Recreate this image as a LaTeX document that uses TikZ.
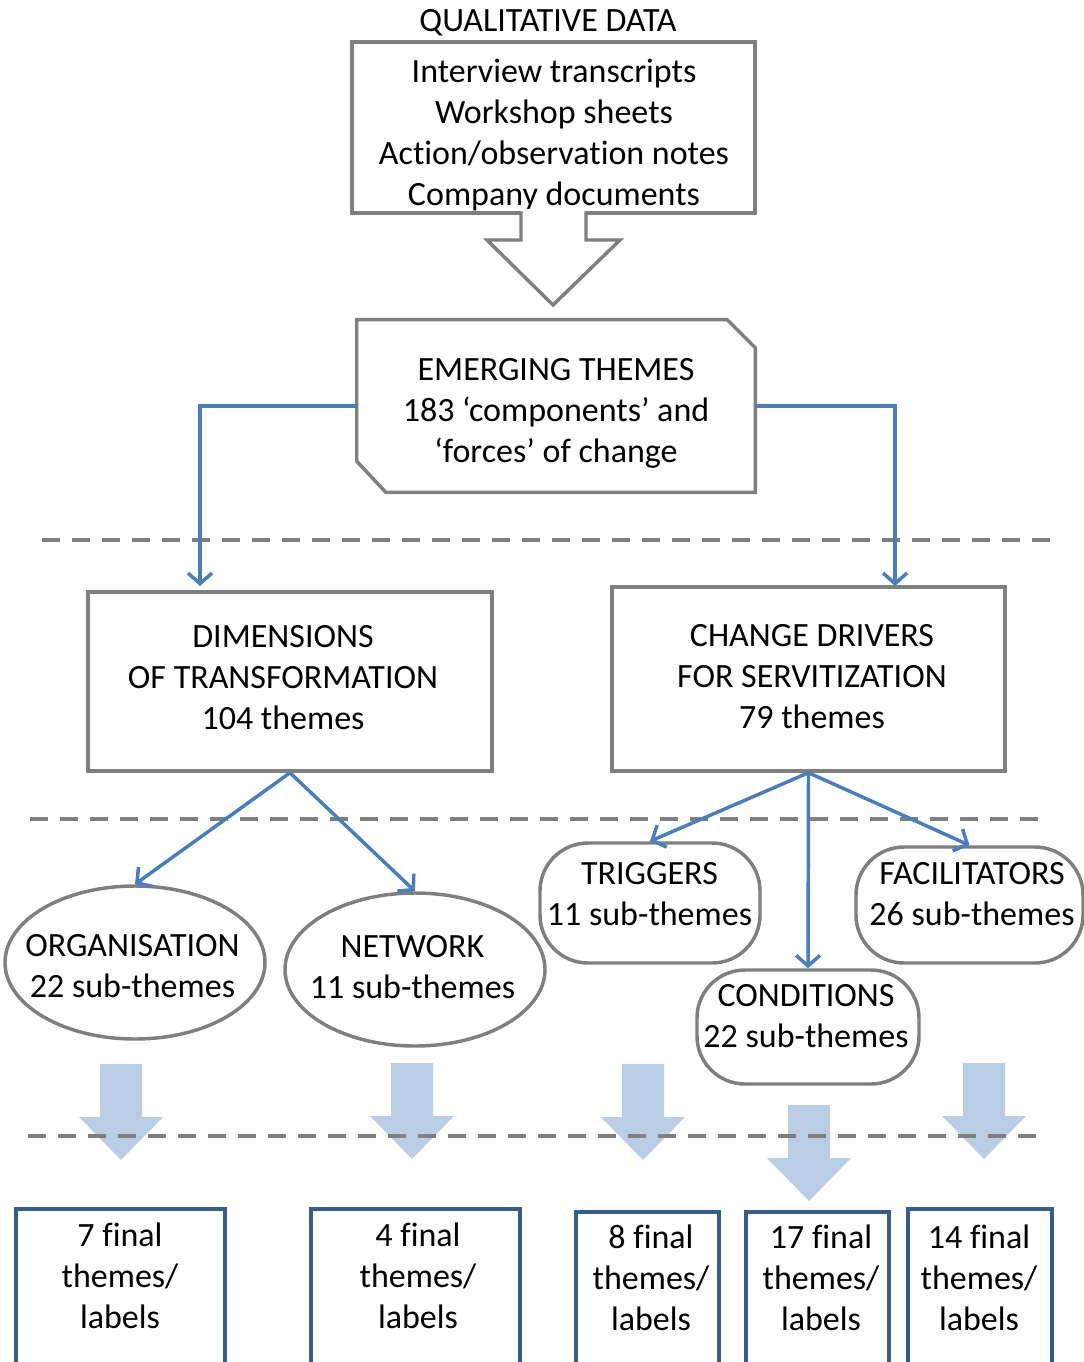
\documentclass[tikz,border=0pt]{standalone}
\usepackage{fontspec}
\setmainfont{Carlito}[RawFeature={-liga}]
\usetikzlibrary{arrows.meta,shapes.geometric}
\newdimen\pxu \pxu=0.75pt
\definecolor{boxgray}{HTML}{7F7F7F}
\definecolor{conblue}{HTML}{4A7EBB}
\definecolor{lightblue}{HTML}{B9CDE5}
\definecolor{darkblue}{HTML}{385D8A}
\newcommand{\blockarrow}[2]{\fill[lightblue] (#1-21,#2) -- (#1+21,#2) -- (#1+21,#2+53) -- (#1+42,#2+53) -- (#1,#2+96) -- (#1-42,#2+53) -- (#1-21,#2+53) -- cycle;}
\begin{document}
\begin{tikzpicture}[x=0.75pt,y=-0.75pt,
  txt/.style={font=\fontsize{25.5}{30.75}\selectfont, align=center, inner sep=0pt},
  graybox/.style={draw=boxgray, line width=2.6pt, rectangle, inner sep=0pt},
  oval/.style={draw=boxgray, line width=2.6pt, ellipse, inner sep=0pt},
  roundbox/.style={draw=boxgray, line width=2.6pt, rectangle, rounded corners=48\pxu, inner sep=0pt},
  conn/.style={draw=conblue, line width=2.6pt, -{Straight Barb[length=8pt,width=18pt]}},
  sepline/.style={draw=boxgray, line width=3pt, dash pattern=on 13.5pt off 9pt},
  finalbox/.style={draw=darkblue, line width=3pt, rectangle, inner sep=0pt},
]
\useasboundingbox (0,0) rectangle (1083,1362);

% top
\node[txt] (qd) at (548,23) {QUALITATIVE DATA};
\node[graybox, minimum width=403\pxu, minimum height=171\pxu] (data) at (553.5,127.5) {};
\node[txt] (dataT) at (554,135.5)
  {Interview transcripts\\Workshop sheets\\Action/observation notes\\Company documents};

% hollow arrow
\path[fill=white] (521,209) -- (521,240) -- (487,240) -- (553,305) -- (620,240) -- (586,240) -- (586,209) -- cycle;
\draw[boxgray, line width=2.6pt, line join=miter] (521,211.5) -- (521,240) -- (487,240) -- (553,305) -- (620,240) -- (586,240) -- (586,211.5);

% emerging themes
\node[minimum width=398\pxu, minimum height=172\pxu, inner sep=0pt] (emg) at (556,406) {};
\draw[boxgray, line width=2.6pt, line join=miter]
  (emg.north west) -- ([xshift=-28\pxu]emg.north east) -- ([yshift=-28\pxu]emg.north east)
  -- (emg.south east) -- ([xshift=29\pxu]emg.south west) -- ([yshift=31\pxu]emg.south west) -- cycle;
\node[txt] (emgT) at (556,413.5) {EMERGING THEMES\\183 ‘components’ and\\‘forces’ of change};

% separators
\draw[sepline] (42,540) -- (1055,540);
\draw[sepline] (30,819) -- (1040,819);

% level 2
\node[graybox, minimum width=404\pxu, minimum height=179\pxu] (dim) at (290,681.5) {};
\node[txt] (dimT) at (283,677.5) {DIMENSIONS\\OF TRANSFORMATION\\104 themes};
\node[graybox, minimum width=393\pxu, minimum height=184\pxu] (cd) at (808.5,679) {};
\node[txt] (cdT) at (812,677) {CHANGE DRIVERS\\FOR SERVITIZATION\\79 themes};

% level 3
\node[oval, minimum width=260\pxu, minimum height=153\pxu] (org) at (135,962.5) {};
\node[txt] (orgT) at (132.5,966.5) {ORGANISATION\\22 sub-themes};
\node[oval, minimum width=260\pxu, minimum height=153\pxu] (net) at (415,969.5) {};
\node[txt] (netT) at (412.5,967.5) {NETWORK\\11 sub-themes};
\node[roundbox, minimum width=220\pxu, minimum height=120\pxu] (trg) at (650,903) {};
\node[txt] (trgT) at (649.5,894.5) {TRIGGERS\\11 sub-themes};
\node[roundbox, minimum width=227\pxu, minimum height=116\pxu] (fac) at (969.5,905) {};
\node[txt] (facT) at (972,894.5) {FACILITATORS\\26 sub-themes};
\node[roundbox, minimum width=222\pxu, minimum height=114\pxu] (con) at (808,1027) {};
\node[txt] (conT) at (806,1016.5) {CONDITIONS\\22 sub-themes};

% connectors
\coordinate (dimin) at (200,586);
\coordinate (cdin) at (895,586);
\draw[conn] (emg.west) -| (dimin);
\draw[conn] (emg.east) -| (cdin);
\draw[conn] (dim.south) -- (org.north);
\draw[conn] (dim.south) -- (net.north);
\draw[conn] (cd.south) -- (trg.north);
\draw[conn] (cd.south) -- (con.north);
\draw[conn] (cd.south) -- (fac.north);

% block arrows
\blockarrow{121}{1064}
\blockarrow{412}{1063}
\blockarrow{643}{1064}
\blockarrow{809}{1105}
\blockarrow{984}{1063}

\draw[sepline] (28,1136) -- (1040,1136);

% final boxes
\node[finalbox, minimum width=209\pxu, minimum height=200\pxu, anchor=north] (f1) at (120.5,1207) {};
\node[finalbox, minimum width=209\pxu, minimum height=200\pxu, anchor=north] (f2) at (415.5,1207) {};
\node[finalbox, minimum width=143\pxu, minimum height=200\pxu, anchor=north] (f3) at (647.5,1210) {};
\node[finalbox, minimum width=143\pxu, minimum height=200\pxu, anchor=north] (f4) at (817.5,1210) {};
\node[finalbox, minimum width=144\pxu, minimum height=200\pxu, anchor=north] (f5) at (980,1207) {};
\node[txt] (f1t) at (120,1276) {7 final\\themes/\\labels};
\node[txt] (f2t) at (418,1276) {4 final\\themes/\\labels};
\node[txt] (f3t) at (651,1278) {8 final\\themes/\\labels};
\node[txt] (f4t) at (821,1278) {17 final\\themes/\\labels};
\node[txt] (f5t) at (979,1278) {14 final\\themes/\\labels};
\end{tikzpicture}
\end{document}
